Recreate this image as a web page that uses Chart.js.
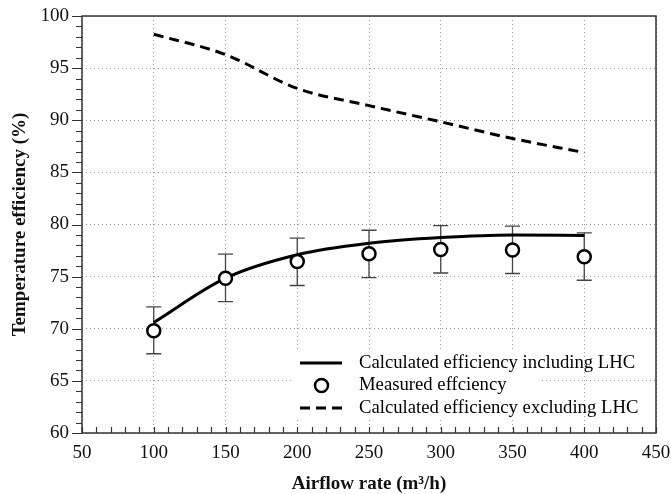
<!DOCTYPE html>
<html>
<head>
<meta charset="utf-8">
<script src="https://cdn.jsdelivr.net/npm/chart.js@4"></script>
<style>
  html, body { margin: 0; padding: 0; background: #fff; }
  #wrap { width: 671px; height: 494px; }
</style>
</head>
<body>
<div id="wrap"><canvas id="chart"></canvas></div>
<script>
// values
const airflow = [100, 150, 200, 250, 300, 350, 400];
const calcIncl = [70.6, 74.85, 77.1, 78.2, 78.75, 79.0, 78.95];
const measured = [69.8, 74.85, 76.45, 77.2, 77.6, 77.55, 76.9];
const measuredHigh = [72.1, 77.15, 78.7, 79.45, 79.9, 79.85, 79.2];
const measuredLow = [67.6, 72.6, 74.15, 74.9, 75.35, 75.3, 74.65];
const calcExcl = [98.25, 96.3, 93.05, 91.4, 89.85, 88.25, 86.9];

const legendLabels = [
  "Calculated efficiency including LHC",
  "Measured effciency",
  "Calculated efficiency excluding LHC",
];

const serif = "'Liberation Serif', 'Times New Roman', serif";
const axisColor = "#333";

function pts(ys) {
  return airflow.map((x, i) => ({ x: x, y: ys[i] }));
}

// error bars + white boxes behind legend rows (drawn over the grid, under the data)
const underlay = {
  id: "underlay",
  beforeDatasetsDraw(chart) {
    const { ctx, scales: { x, y } } = chart;
    ctx.save();
    ctx.fillStyle = "#fff";
    ctx.fillRect(293, 350, 288, 24);
    ctx.fillRect(293, 374, 246, 22);
    ctx.fillRect(293, 396, 288, 24);

    ctx.strokeStyle = "#444";
    ctx.lineWidth = 1.3;
    airflow.forEach((v, i) => {
      const px = x.getPixelForValue(v);
      const top = y.getPixelForValue(measuredHigh[i]);
      const bot = y.getPixelForValue(measuredLow[i]);
      ctx.beginPath();
      ctx.moveTo(px, top); ctx.lineTo(px, bot);
      ctx.moveTo(px - 7.5, top); ctx.lineTo(px + 7.5, top);
      ctx.moveTo(px - 7.5, bot); ctx.lineTo(px + 7.5, bot);
      ctx.stroke();
    });
    ctx.restore();
  },
};

// frame, minor/major tick marks and the legend
const overlay = {
  id: "overlay",
  afterDraw(chart) {
    const { ctx, chartArea: a, scales: { x, y } } = chart;
    ctx.save();
    ctx.strokeStyle = axisColor;
    ctx.lineWidth = 1.5;
    ctx.strokeRect(a.left, a.top, a.right - a.left, a.bottom - a.top);

    ctx.lineWidth = 1.2;
    ctx.beginPath();
    for (let v = 50; v <= 450; v += 10) {
      const px = Math.round(x.getPixelForValue(v)) + 0.5;
      ctx.moveTo(px, a.bottom);
      ctx.lineTo(px, a.bottom - 6);
    }
    for (let v = 60; v <= 100; v += 1) {
      const py = Math.round(y.getPixelForValue(v)) + 0.5;
      const len = v % 5 === 0 ? 10 : 6;
      ctx.moveTo(a.left, py);
      ctx.lineTo(a.left - len, py);
    }
    ctx.stroke();

    // legend
    const rows = [363, 385.5, 408];
    ctx.strokeStyle = "#000";
    ctx.lineWidth = 3;
    ctx.beginPath();
    ctx.moveTo(300, rows[0]); ctx.lineTo(342, rows[0]);
    ctx.stroke();
    ctx.setLineDash([10, 6]);
    ctx.beginPath();
    ctx.moveTo(300, rows[2]); ctx.lineTo(342, rows[2]);
    ctx.stroke();
    ctx.setLineDash([]);
    ctx.lineWidth = 2.5;
    ctx.fillStyle = "#fff";
    ctx.beginPath();
    ctx.arc(321.5, rows[1], 6.5, 0, Math.PI * 2);
    ctx.fill();
    ctx.stroke();

    ctx.fillStyle = "#000";
    ctx.font = "18.7px " + serif;
    ctx.textBaseline = "middle";
    ctx.textAlign = "left";
    legendLabels.forEach((t, i) => ctx.fillText(t, 359, rows[i]));
    ctx.restore();
  },
};

new Chart(document.getElementById("chart"), {
  type: "line",
  data: {
    datasets: [
      {
        label: legendLabels[1],
        data: pts(measured),
        showLine: false,
        pointStyle: "circle",
        pointRadius: 6.5,
        pointBorderWidth: 2.5,
        pointBorderColor: "#000",
        pointBackgroundColor: "#fff",
        order: 0,
      },
      {
        label: legendLabels[0],
        data: pts(calcIncl),
        borderColor: "#000",
        borderWidth: 3,
        pointRadius: 0,
        cubicInterpolationMode: "monotone",
        order: 1,
      },
      {
        label: legendLabels[2],
        data: pts(calcExcl),
        borderColor: "#000",
        borderWidth: 3,
        borderDash: [10, 6],
        pointRadius: 0,
        cubicInterpolationMode: "monotone",
        order: 2,
      },
    ],
  },
  options: {
    responsive: true,
    maintainAspectRatio: false,
    animation: false,
    devicePixelRatio: 1,
    layout: { padding: { top: 16, right: 15, left: 0, bottom: 0 } },
    plugins: { legend: { display: false }, tooltip: { enabled: false } },
    scales: {
      x: {
        type: "linear",
        min: 50,
        max: 450,
        afterFit: (s) => { s.height = 61; s.paddingLeft = 0; s.paddingRight = 0; },
        ticks: { stepSize: 50, padding: 9, color: "#111", font: { family: serif, size: 19 } },
        grid: { drawTicks: false, color: "#999", lineWidth: 1 },
        border: { display: false, dash: [1, 3] },
        title: {
          display: true,
          text: "Airflow rate (m³/h)",
          color: "#111",
          padding: 0,
          font: { family: serif, size: 19, weight: "bold", lineHeight: 1 },
        },
      },
      y: {
        min: 60,
        max: 100,
        afterFit: (s) => { s.width = 82; s.paddingTop = 0; s.paddingBottom = 0; },
        ticks: { stepSize: 5, padding: 13, color: "#111", font: { family: serif, size: 19 } },
        grid: { drawTicks: false, color: "#999", lineWidth: 1 },
        border: { display: false, dash: [1, 3] },
        title: {
          display: true,
          text: "Temperature efficiency (%)",
          color: "#111",
          padding: { top: 9, bottom: 0 },
          font: { family: serif, size: 19, weight: "bold", lineHeight: 1.2 },
        },
      },
    },
  },
  plugins: [underlay, overlay],
});
</script>
</body>
</html>
